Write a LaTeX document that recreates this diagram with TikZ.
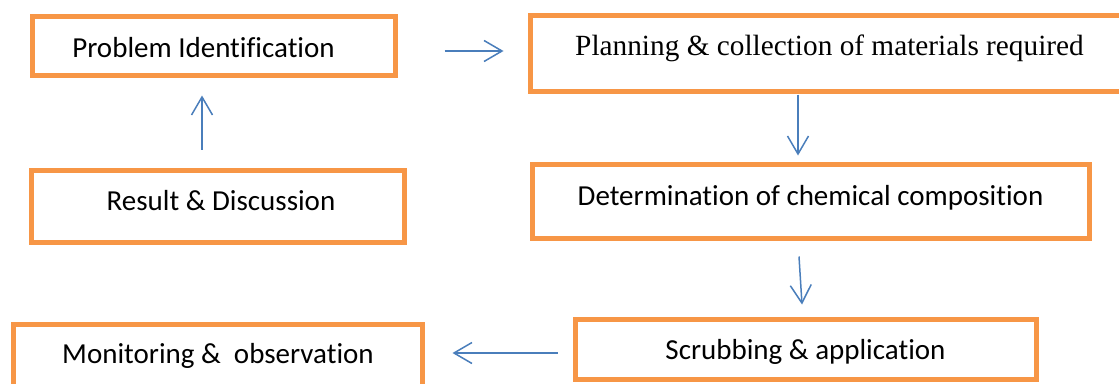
\documentclass[tikz,border=0pt]{standalone}
\usepackage{fontspec}
\setmainfont{Carlito}[Ligatures={NoCommon,NoRare,NoContextual}]
\newfontfamily\timesfont{Liberation Serif}
\usetikzlibrary{arrows.meta,calc}
\definecolor{boxorange}{HTML}{F79646}
\definecolor{arrowblue}{HTML}{4A7EBB}
\begin{document}
\begin{tikzpicture}[x=1pt,y=-1pt,
  box/.style={draw=boxorange, line width=5pt, inner sep=0pt, rectangle},
  txt/.style={anchor=base, inner sep=0pt, font=\fontsize{29}{32}\selectfont},
  arr/.style={draw=arrowblue, line width=1.5pt, -{Straight Barb[length=18pt,width=21pt,line width=1.5pt]}}]
\useasboundingbox (0,0) rectangle (1119,383);
\clip (0,0) rectangle (1119,383);
% boxes
\node[box, minimum width=363pt, minimum height=59pt] (p1) at (214,46) {};
\node[box, minimum width=591.5pt, minimum height=76pt] (p2) at (826.25,53.5) {};
\node[box, minimum width=373pt, minimum height=72pt] (p3) at (218,206.5) {};
\node[box, minimum width=557pt, minimum height=74pt] (p4) at (811,201.5) {};
\node[box, minimum width=461pt, minimum height=60pt] (p5) at (806,349.5) {};
\node[box, minimum width=409pt, minimum height=68pt] (p6) at (218,358) {};
% texts
\node[txt] (t1) at (203.5,57) {Problem Identification};
\node[txt, font=\fontsize{29.3}{32}\timesfont] (t2) at (829.5,55) {Planning \& collection of materials required};
\node[txt] (t3) at (221,210) {Result \& Discussion};
\node[txt] (t4) at (810.5,205) {Determination of chemical composition};
\node[txt] (t5) at (805.5,359) {Scrubbing \& application};
\node[txt] (t6) at (218,363) {Monitoring \&\ \ observation};
% connectors
\draw[arr] ($(p1.east)+(46.5,5)$) -- ($(p2.west)+(-24.5,-2.5)$);
\draw[arr] ($(p2.south)+(-28.25,0.5)$) -- ($(p4.north)+(-13,-6.5)$);
\draw[arr] ($(p4.south)+(-12,15.5)$) -- ($(p5.north)+(-4,-12.5)$);
\draw[arr] ($(p5.west)+(-15.5,3.5)$) -- ($(p6.east)+(27.5,-5)$);
\draw[arr] ($(p3.north)+(-16,-18.5)$) -- ($(p1.south)+(-12,17.5)$);
\end{tikzpicture}
\end{document}
